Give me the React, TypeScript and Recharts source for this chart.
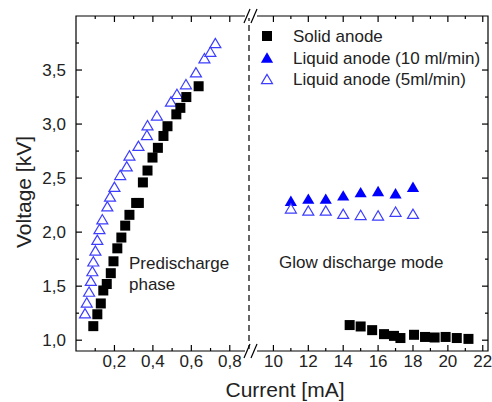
import React, { useEffect, useState } from "react";
import { ScatterChart, Scatter, XAxis, YAxis, ReferenceLine, Legend } from "recharts";

const FONT = '"Liberation Sans", Arial, sans-serif';

// predischarge phase (left panel, mA)
const solidLowCurrent = [0.09, 0.111, 0.129, 0.142, 0.16, 0.181, 0.195, 0.215, 0.236, 0.256, 0.278, 0.313, 0.327, 0.348, 0.372, 0.398, 0.426, 0.455, 0.476, 0.522, 0.543, 0.574, 0.638];
const solidLowVoltage = [1.13, 1.24, 1.34, 1.46, 1.52, 1.62, 1.73, 1.85, 1.95, 2.06, 2.16, 2.27, 2.27, 2.46, 2.57, 2.69, 2.78, 2.89, 2.98, 3.09, 3.15, 3.25, 3.35];
const liquid5LowCurrent = [0.047, 0.056, 0.068, 0.077, 0.085, 0.09, 0.101, 0.111, 0.122, 0.137, 0.163, 0.177, 0.2, 0.23, 0.264, 0.278, 0.325, 0.369, 0.372, 0.421, 0.494, 0.525, 0.572, 0.624, 0.668, 0.699, 0.725];
const liquid5LowVoltage = [1.25, 1.35, 1.45, 1.55, 1.64, 1.73, 1.83, 1.93, 2.03, 2.12, 2.24, 2.33, 2.42, 2.53, 2.61, 2.71, 2.8, 2.9, 2.99, 3.08, 3.21, 3.28, 3.37, 3.48, 3.61, 3.67, 3.75];

// glow discharge mode (right panel, mA)
const solidHighCurrent = [14.37, 15.0, 15.66, 16.34, 16.91, 17.28, 18.06, 18.69, 19.24, 19.87, 20.51, 21.18];
const solidHighVoltage = [1.14, 1.127, 1.093, 1.056, 1.04, 1.02, 1.05, 1.03, 1.025, 1.03, 1.02, 1.012];
const liquidHighCurrent = [11, 12, 13, 14, 15, 16, 17, 18];
const liquid10Voltage = [2.29, 2.31, 2.31, 2.34, 2.37, 2.38, 2.36, 2.42];
const liquid5HighVoltage = [2.22, 2.2, 2.2, 2.17, 2.16, 2.155, 2.19, 2.17];

const seriesNames = ["Solid anode", "Liquid anode (10 ml/min)", "Liquid anode (5ml/min)"];

const lowMajor = [0.2, 0.4, 0.6, 0.8];
const lowMinor = [0.1, 0.3, 0.5, 0.7];
const highMajor = [10, 12, 14, 16, 18, 20, 22];
const highMinor = [11, 13, 15, 17, 19, 21];
const voltMajor = [1, 1.5, 2, 2.5, 3, 3.5];
const voltMinor = [1.25, 1.75, 2.25, 2.75, 3.25, 3.75];

const lowDomain: [number, number] = [0, 0.9];
const highDomain: [number, number] = [8.6, 22.3];
const voltDomain: [number, number] = [0.9, 4.0];

const pts = (xs: number[], ys: number[]) => xs.map((x, i) => ({ x, y: ys[i] }));
const solidLow = pts(solidLowCurrent, solidLowVoltage);
const liquid5Low = pts(liquid5LowCurrent, liquid5LowVoltage);
const solidHigh = pts(solidHighCurrent, solidHighVoltage);
const liquid10High = pts(liquidHighCurrent, liquid10Voltage);
const liquid5High = pts(liquidHighCurrent, liquid5HighVoltage);

// frame corners, walked in order by a scatter line
const [v0, v1] = voltDomain;
const leftFrame = pts([lowDomain[1], lowDomain[0], lowDomain[0], lowDomain[1]], [v1, v1, v0, v0]);
const rightFrame = pts([highDomain[0], highDomain[1], highDomain[1], highDomain[0]], [v1, v1, v0, v0]);

const atY = (xs: number[], y: number) => xs.map((x) => ({ x, y }));
const atX = (ys: number[], x: number) => ys.map((y) => ({ x, y }));

const comma = (v: number) => v.toFixed(1).replace(".", ",");
const TICK_TEXT = { fontSize: 17, fill: "#222", fontFamily: FONT };

const Square = (p: any) => <rect x={p.cx - 5} y={p.cy - 5} width={10} height={10} fill="#000" />;
const FullTri = (p: any) => (
  <polygon
    points={`${p.cx},${p.cy - 5.2} ${p.cx - 6.1},${p.cy + 5.2} ${p.cx + 6.1},${p.cy + 5.2}`}
    fill="#0000ff"
  />
);
const OpenTri = (p: any) => (
  <polygon
    points={`${p.cx},${p.cy - 4.6} ${p.cx - 5.5},${p.cy + 4.7} ${p.cx + 5.5},${p.cy + 4.7}`}
    fill="#fff"
    stroke="#3d3dff"
    strokeWidth={1.2}
  />
);
const NoMark = () => <g />;
// short inward tick drawn from the point the scale gives
const tickMark = (dx: number, dy: number) => (p: any) =>
  <line x1={p.cx} y1={p.cy} x2={p.cx + dx} y2={p.cy + dy} stroke="#000" strokeWidth={1.2} />;

const tickSeries = (key: string, data: { x: number; y: number }[], dx: number, dy: number) => (
  <Scatter
    key={key}
    xAxisId="b"
    data={data}
    shape={tickMark(dx, dy)}
    legendType="none"
    isAnimationActive={false}
  />
);

const LegendBox = () => {
  const icons = [
    <rect x={13} y={-5} width={10} height={10} fill="#000" />,
    <polygon points="18,-5.2 11.9,5.2 24.1,5.2" fill="#0000ff" />,
    <polygon points="18,-4.6 12.5,4.7 23.5,4.7" fill="#fff" stroke="#3d3dff" strokeWidth={1.2} />,
  ];
  return (
    <svg width={240} height={70}>
      {seriesNames.map((name, i) => (
        <g key={name} transform={`translate(0, ${10 + i * 21.5})`}>
          {icons[i]}
          <text x={44} y={6} fontSize={17} fill="#222" fontFamily={FONT}>
            {name}
          </text>
        </g>
      ))}
    </svg>
  );
};

export default function App() {
  // one extra render after mount
  const [, setReady] = useState(false);
  useEffect(() => setReady(true), []);

  return (
    <div style={{ position: "absolute", left: 0, top: 0, width: 492, height: 402 }}>
      <div style={{ position: "absolute", left: 0, top: 0 }}>
        <ScatterChart width={250} height={402} margin={{ top: 16, right: 1, bottom: 0, left: 0 }}>
          <XAxis
            xAxisId="b"
            type="number"
            dataKey="x"
            orientation="bottom"
            domain={lowDomain}
            ticks={lowMajor}
            interval={0}
            height={51}
            tickSize={-6}
            tickMargin={10}
            axisLine={false}
            tickLine={false}
            tick={TICK_TEXT}
            tickFormatter={comma}
          />
          <YAxis
            type="number"
            dataKey="y"
            domain={voltDomain}
            ticks={voltMajor}
            interval={0}
            width={76}
            tickSize={-6}
            tickMargin={16}
            axisLine={false}
            tickLine={false}
            tick={TICK_TEXT}
            tickFormatter={comma}
          />
          <ReferenceLine xAxisId="b" x={lowDomain[1]} stroke="#000" strokeWidth={1.2} strokeDasharray="6 4" />
          <Scatter
            xAxisId="b"
            data={leftFrame}
            shape={NoMark}
            line={{ stroke: "#000", strokeWidth: 1.2 }}
            legendType="none"
            isAnimationActive={false}
          />
          {tickSeries("bM", atY(lowMajor, v0), 0, -6)}
          {tickSeries("bm", atY(lowMinor, v0), 0, -3)}
          {tickSeries("tM", atY(lowMajor, v1), 0, 6)}
          {tickSeries("tm", atY(lowMinor, v1), 0, 3)}
          {tickSeries("lM", atX(voltMajor, lowDomain[0]), 6, 0)}
          {tickSeries("lm", atX(voltMinor, lowDomain[0]), 3, 0)}
          <Scatter xAxisId="b" name={seriesNames[2]} data={liquid5Low} shape={OpenTri} isAnimationActive={false} />
          <Scatter xAxisId="b" name={seriesNames[0]} data={solidLow} shape={Square} isAnimationActive={false} />
        </ScatterChart>
      </div>
      <div style={{ position: "absolute", left: 249, top: 0 }}>
        <ScatterChart width={243} height={402} margin={{ top: 16, right: 4, bottom: 0, left: 0 }}>
          <XAxis
            xAxisId="b"
            type="number"
            dataKey="x"
            orientation="bottom"
            domain={highDomain}
            ticks={highMajor}
            interval={0}
            height={51}
            tickSize={-6}
            tickMargin={10}
            axisLine={false}
            tickLine={false}
            tick={TICK_TEXT}
          />
          <YAxis type="number" dataKey="y" orientation="right" domain={voltDomain} hide />
          <Legend
            layout="vertical"
            align="center"
            verticalAlign="middle"
            wrapperStyle={{ position: "absolute", top: 26, left: 0, width: 240, height: 70 }}
            content={() => <LegendBox />}
          />
          <Scatter
            xAxisId="b"
            data={rightFrame}
            shape={NoMark}
            line={{ stroke: "#000", strokeWidth: 1.2 }}
            legendType="none"
            isAnimationActive={false}
          />
          {tickSeries("bM", atY(highMajor, v0), 0, -6)}
          {tickSeries("bm", atY(highMinor, v0), 0, -3)}
          {tickSeries("tM", atY(highMajor, v1), 0, 6)}
          {tickSeries("tm", atY(highMinor, v1), 0, 3)}
          {tickSeries("rM", atX(voltMajor, highDomain[1]), -6, 0)}
          {tickSeries("rm", atX(voltMinor, highDomain[1]), -3, 0)}
          <Scatter xAxisId="b" name={seriesNames[0]} data={solidHigh} shape={Square} isAnimationActive={false} />
          <Scatter xAxisId="b" name={seriesNames[1]} data={liquid10High} shape={FullTri} isAnimationActive={false} />
          <Scatter xAxisId="b" name={seriesNames[2]} data={liquid5High} shape={OpenTri} isAnimationActive={false} />
        </ScatterChart>
      </div>
      <svg
        width={492}
        height={402}
        style={{ position: "absolute", left: 0, top: 0, pointerEvents: "none" }}
        fontFamily={FONT}
      >
        {/* axis break marks */}
        <rect x={245} y={14} width={12} height={4} fill="#fff" />
        <rect x={245} y={349} width={12} height={4} fill="#fff" />
        {[16, 351].map((yy) => (
          <g key={yy} stroke="#000" strokeWidth={1.2}>
            <line x1={244} y1={yy + 7} x2={250} y2={yy - 7} />
            <line x1={251} y1={yy + 7} x2={257} y2={yy - 7} />
          </g>
        ))}
        <text x={129} y={269} fontSize={17} fill="#222">
          Predischarge
        </text>
        <text x={129} y={290} fontSize={17} fill="#222">
          phase
        </text>
        <text x={279} y={268} fontSize={17} fill="#222">
          Glow discharge mode
        </text>
        <text x={285} y={397} fontSize={21} fill="#222" textAnchor="middle">
          Current [mA]
        </text>
        <text x={31} y={192} fontSize={21} fill="#222" textAnchor="middle" transform="rotate(-90 31 192)">
          Voltage [kV]
        </text>
      </svg>
    </div>
  );
}
